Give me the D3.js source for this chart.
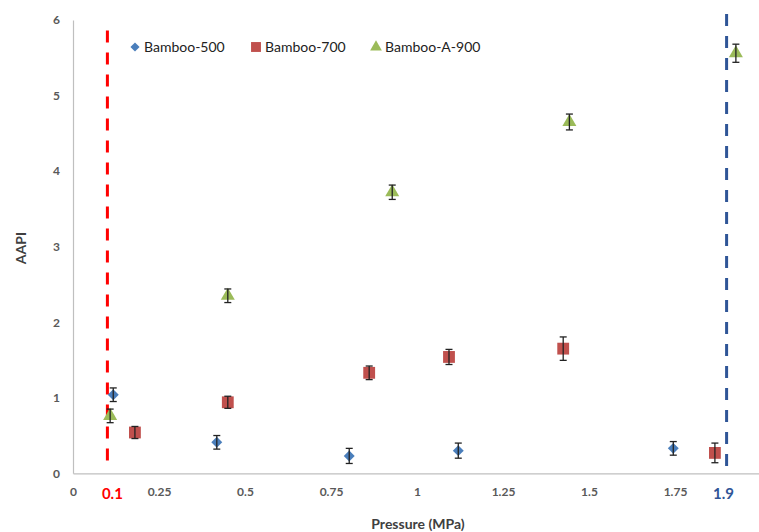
<!DOCTYPE html>
<html>
<head>
<meta charset="utf-8">
<script src="https://cdn.jsdelivr.net/npm/d3@7"></script>
<style>
  html, body { margin: 0; padding: 0; background: #fff; }
  svg { display: block; font-family: Lato, "Open Sans", sans-serif; }
</style>
</head>
<body>
<svg id="chart" width="759" height="532"></svg>
<script>
// Pressure (MPa) and AAPI with standard deviation per carbon
const seriesNames = ["Bamboo-500", "Bamboo-700", "Bamboo-A-900"];
const b500X   = [0.117, 0.418, 0.803, 1.12, 1.745];
const b500Y   = [1.04, 0.41, 0.23, 0.30, 0.33];
const b500Err = [0.09, 0.09, 0.10, 0.10, 0.09];
const b700X   = [0.18, 0.45, 0.861, 1.093, 1.425, 1.866];
const b700Y   = [0.54, 0.94, 1.33, 1.54, 1.65, 0.27];
const b700Err = [0.08, 0.08, 0.09, 0.10, 0.155, 0.13];
const a900X   = [0.108, 0.45, 0.928, 1.443, 1.927];
const a900Y   = [0.76, 2.35, 3.72, 4.65, 5.56];
const a900Err = [0.09, 0.09, 0.095, 0.105, 0.12];
const xTicks = [0, 0.25, 0.5, 0.75, 1, 1.25, 1.5, 1.75];
const xTickLabels = ["0", "0.25", "0.5", "0.75", "1", "1.25", "1.5", "1.75"];
const yTicks = [0, 1, 2, 3, 4, 5, 6];
const refLines = [0.1, 1.9];
const refLabels = ["0.1", "1.9"];

const svg = d3.select("#chart");
const x = d3.scaleLinear().domain([0, 2]).range([73, 761]);
const y = d3.scaleLinear().domain([0, 6]).range([473.3, 20]);

const colors = ["#4A7EBB", "#C0504D", "#9BBB59"];
const shapes = [d3.symbolSquare, d3.symbolSquare, d3.symbolTriangle];
const rotations = [45, 0, 0];
const sizes = [60, 140, 85];

// axes
const xAxis = svg.append("g").attr("transform", `translate(0,${y(0)})`)
  .call(d3.axisBottom(x).tickValues(xTicks).tickFormat((d, i) => xTickLabels[i]).tickSize(0).tickPadding(14));
const yAxis = svg.append("g").attr("transform", `translate(${x(0)},0)`)
  .call(d3.axisLeft(y).tickValues(yTicks).tickFormat(d3.format("d")).tickSize(0).tickPadding(13));
[xAxis, yAxis].forEach(g => {
  g.select(".domain").attr("stroke", "#BFBFBF").attr("stroke-width", 1.2);
  g.selectAll("text").attr("fill", "#595959").attr("font-size", 12).attr("font-weight", "bold")
    .attr("font-family", "Lato, sans-serif");
});

// axis titles
svg.append("text").attr("x", 418).attr("y", 529).attr("text-anchor", "middle")
  .attr("font-size", 14).attr("font-weight", "bold").attr("fill", "#404040").text("Pressure (MPa)");
svg.append("text").attr("transform", "translate(26,248) rotate(-90)").attr("text-anchor", "middle")
  .attr("font-size", 14).attr("font-weight", "bold").attr("fill", "#404040").text("AAPI");

// reference pressures
const refColors = ["#FF0000", "#2F5597"];
const refTop = [5.86, 6.08];
const refBottom = [0.08, 0];
const refLabelShift = [5, -3];
refLines.forEach((v, i) => {
  svg.append("line").attr("x1", x(v)).attr("x2", x(v))
    .attr("y1", y(refTop[i])).attr("y2", y(refBottom[i]))
    .attr("stroke", refColors[i]).attr("stroke-width", 3).attr("stroke-dasharray", "12,10");
  svg.append("text").attr("x", x(v) + refLabelShift[i]).attr("y", 499).attr("text-anchor", "middle")
    .attr("font-size", 15).attr("font-weight", "bold").attr("fill", refColors[i]).text(refLabels[i]);
});

// data points with error bars
const series = [
  {xs: b500X, ys: b500Y, es: b500Err},
  {xs: b700X, ys: b700Y, es: b700Err},
  {xs: a900X, ys: a900Y, es: a900Err}
];
series.forEach((s, k) => {
  const pts = s.xs.map((xv, i) => ({x: xv, y: s.ys[i], e: s.es[i]}));
  const g = svg.append("g");
  g.selectAll("path").data(pts).join("path")
    .attr("transform", d => `translate(${x(d.x)},${y(d.y)}) rotate(${rotations[k]})`)
    .attr("d", d3.symbol().type(shapes[k]).size(sizes[k]))
    .attr("fill", colors[k]);
  const eb = svg.append("g").attr("stroke", "#222").attr("stroke-width", 1.3);
  pts.forEach(d => {
    const cx = x(d.x), y1 = y(d.y + d.e), y2 = y(d.y - d.e);
    eb.append("line").attr("x1", cx).attr("x2", cx).attr("y1", y1).attr("y2", y2);
    eb.append("line").attr("x1", cx - 3.5).attr("x2", cx + 3.5).attr("y1", y1).attr("y2", y1);
    eb.append("line").attr("x1", cx - 3.5).attr("x2", cx + 3.5).attr("y1", y2).attr("y2", y2);
  });
});

// legend
const legendX = [135, 256, 376];
const legend = svg.append("g");
seriesNames.forEach((name, k) => {
  legend.append("path").attr("transform", `translate(${legendX[k]},47) rotate(${rotations[k]})`)
    .attr("d", d3.symbol().type(shapes[k]).size(sizes[k] * 0.7)).attr("fill", colors[k]);
  legend.append("text").attr("x", legendX[k] + 9).attr("y", 52)
    .attr("font-size", 14).attr("fill", "#222").text(name);
});
</script>
</body>
</html>
